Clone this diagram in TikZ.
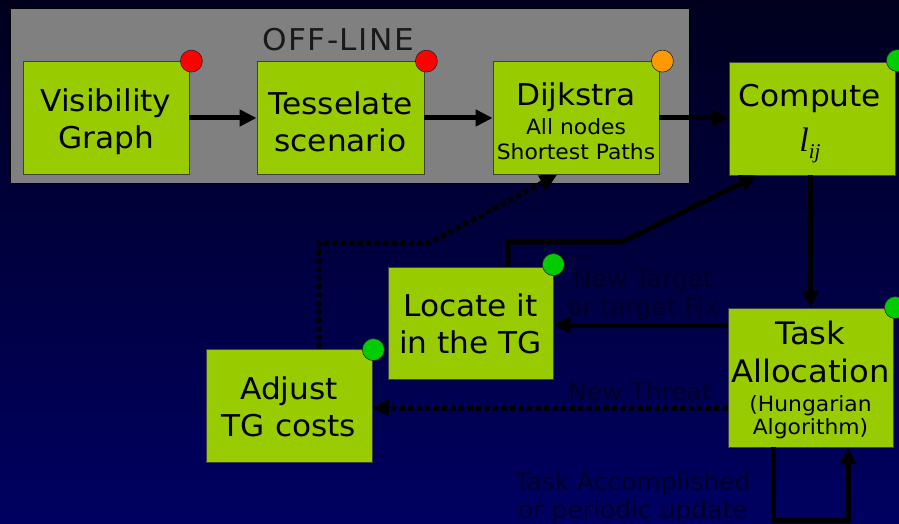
\documentclass[tikz,border=0pt]{standalone}
\usepackage{fontspec}
\setmainfont{DejaVu Sans}[FakeStretch=1.04]
\newfontfamily\lserif{Liberation Serif}
\usetikzlibrary{arrows.meta,calc}
\definecolor{boxgreen}{HTML}{99CC00}
\definecolor{dotred}{HTML}{FF0000}
\definecolor{dotorange}{HTML}{FF9900}
\definecolor{dotgreen}{HTML}{00CC00}
\definecolor{panelgray}{HTML}{808080}
\definecolor{labelink}{HTML}{000028}
\definecolor{bgtop}{HTML}{00001E}
\definecolor{bgbot}{HTML}{000062}
\newcommand{\smalltxt}{\fontsize{21}{25}\selectfont}
\begin{document}
\begin{tikzpicture}[x=1pt,y=-1pt,
  stepbox/.style={draw=black!75, line width=0.8pt, fill=boxgreen,
    minimum width=166pt, minimum height=113pt, inner sep=0pt},
  steptext/.style={align=center, inner sep=0pt, font=\fontsize{30}{37}\selectfont},
  status/.style={circle, draw=black!85, line width=0.6pt,
    minimum size=22pt, inner sep=0pt},
  flow/.style={line width=5pt, -{Triangle[length=17pt,width=16pt]}},
  dotflow/.style={flow, dash pattern=on 5pt off 3.5pt},
  note/.style={text=labelink, font=\fontsize{24}{28}\selectfont, inner sep=0pt}]

% background
\shade[top color=bgtop, bottom color=bgbot] (0,0) rectangle (899,524);
\useasboundingbox (0,0) rectangle (899,524);

% off-line panel
\node[draw=black, line width=1pt, fill=panelgray, minimum width=679pt,
  minimum height=174pt, inner sep=0pt] (offline) at (349.5,96) {};
\node[font=\fontsize{30}{35}\selectfont\addfontfeature{LetterSpace=5}, text=black!90, inner sep=0pt] (title) at (338,39.5) {OFF-LINE};

% processing steps (boxes)
\node[stepbox] (vis) at (106,118) {};
\node[stepbox, minimum width=167pt] (tes) at (340.5,118) {};
\node[stepbox] (dij) at (576,118) {};
\node[stepbox] (comp) at (812,118.5) {};
\node[stepbox, minimum width=165pt, minimum height=139pt] (task) at (810.5,377.5) {};
\node[stepbox, minimum width=165pt, minimum height=112pt] (loc) at (470.5,323) {};
\node[stepbox] (adj) at (289,405.5) {};

% processing steps (captions)
\node[steptext] (vist) at ($(vis)+(0,4)$) {Visibility\\Graph};
\node[steptext] (test) at ($(tes)+(0,4)$) {Tesselate\\scenario};
\node[steptext] (dijt) at ($(dij)+(0,3)$) {Dijkstra\\[-8pt]{\smalltxt All nodes}\\[-12pt]{\smalltxt Shortest Paths}};
\node[steptext] (compt) at ($(comp)+(-2,5)$) {Compute\\[8pt]{\lserif\itshape\fontsize{34}{34}\selectfont l\raisebox{-7pt}{\fontsize{21}{21}\selectfont ij}}};
\node[steptext, font=\fontsize{31}{38}\selectfont] (taskt) at ($(task)+(0,2)$)
  {Task\\Allocation\\[-9pt]{\smalltxt (Hungarian}\\[-15pt]{\smalltxt Algorithm)}};
\node[steptext] (loct) at ($(loc)+(0,1)$) {Locate it\\in the TG};
\node[steptext] (adjt) at ($(adj)+(0,1)$) {Adjust\\TG costs};

% status lights
\node[status, fill=dotred] (s1) at ($(vis.north east)+(2,0)$) {};
\node[status, fill=dotred] (s2) at ($(tes.north east)+(2,0)$) {};
\node[status, fill=dotorange] (s3) at ($(dij.north east)+(3,0)$) {};
\node[status, fill=dotgreen] (s4) at ($(comp.north east)+(2,-1)$) {};
\node[status, fill=dotgreen] (s5) at ($(task.north east)+(2,0)$) {};
\node[status, fill=dotgreen] (s6) at ($(loc.north east)+(0,-2)$) {};
\node[status, fill=dotgreen] (s7) at ($(adj.north east)+(1,1)$) {};

% off-line chain
\draw[flow] (vis) -- (tes);
\draw[flow] (tes) -- (dij);
\draw[flow] (dij.east) -- (dij.east -| comp.west);

% on-line loop
\draw[flow, line width=4.5pt] (task.north |- comp.south) -- (task.north);
\draw[flow] (task.west |- 0,325) -- (loc.east |- 0,325);
\draw[dotflow] (task.west |- 0,408) -- (adj.east |- 0,408);
\draw[flow] (loc.north -| 508,0) |- (622,242) -- (comp.south -| 757,0);
\draw[dotflow] (adj.north -| 319,0) |- (430,243) -- (dij.south -| 557,0);
\coordinate (loopL) at (773,520);
\coordinate (loopR) at (848,520);
\draw[flow] (task.south -| loopL) -- (loopL) -- (loopR) -- (task.south -| loopR);

% event labels
\node[note, anchor=base] (l1) at (643,287) {New Target};
\node[note, anchor=base] (l2) at (643,315) {or target Fix};
\node[note, anchor=base] (l3) at (640,400) {New Threat};
\node[note, anchor=base] (l4) at (633,490) {Task Accomplished};
\node[note, anchor=base] (l5) at (633,518) {or periodic update};
\end{tikzpicture}
\end{document}
